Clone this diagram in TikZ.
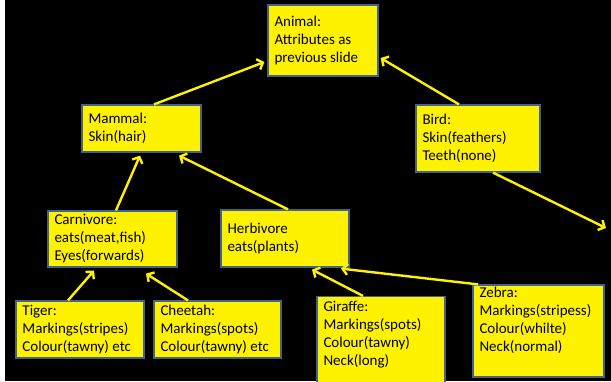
\documentclass[tikz,border=0pt]{standalone}
\usepackage{fontspec}
\setmainfont{Carlito}
\usetikzlibrary{arrows.meta}
\definecolor{boxedge}{RGB}{65,100,140}
\tikzset{
  card/.style={draw=boxedge, line width=1.2pt, fill=yellow, rectangle,
    inner xsep=6.5pt, inner ysep=0pt, align=flush left, anchor=center,
    font=\fontsize{15}{18}\selectfont, text=black},
  link/.style={draw=yellow, line width=2.4pt,
    -{Straight Barb[length=5pt,width=11pt,line width=2.4pt]}},
}
\begin{document}
\begin{tikzpicture}[x=1pt,y=-1pt]
\useasboundingbox (0,0) rectangle (611,381);
\clip (0,0) rectangle (611,381);
\fill[white] (0,0) rectangle (611,381);
\fill[black] (5,0) rectangle (611,381);

\node[card, minimum width=110pt, minimum height=71pt, text width=97pt] (animal) at (323,40.5)
  {Animal:\\Attributes as\\previous slide};
\node[card, minimum width=119pt, minimum height=47pt, text width=106pt] (mammal) at (141.5,128.5)
  {Mammal:\\Skin(hair)};
\node[card, minimum width=124pt, minimum height=67pt, text width=111pt] (bird) at (478,138.5)
  {Bird:\\Skin(feathers)\\Teeth(none)};
\node[card, minimum width=129pt, minimum height=56pt, text width=116pt] (carnivore) at (112.5,239)
  {Carnivore:\\eats(meat,fish)\\Eyes(forwards)};
\node[card, minimum width=128pt, minimum height=57pt, text width=115pt] (herbivore) at (285,238.5)
  {Herbivore\\eats(plants)};
\node[card, minimum width=128pt, minimum height=57pt, text width=115pt] (tiger) at (80,329.5)
  {Tiger:\\Markings(stripes)\\Colour(tawny) etc};
\node[card, minimum width=127pt, minimum height=57pt, text width=114pt] (cheetah) at (217.5,329.5)
  {Cheetah:\\Markings(spots)\\Colour(tawny) etc};
\node[card, minimum width=128pt, minimum height=97pt, text width=115pt] (giraffe) at (381,345)
  {Giraffe:\\Markings(spots)\\Colour(tawny)\\Neck(long)\\\strut};
\node[card, minimum width=131pt, minimum height=92pt, text width=118pt] (zebra) at (538.5,331)
  {Zebra:\\Markings(stripess)\\Colour(whilte)\\Neck(normal)\\\strut};

\coordinate (offright) at (606,228);

\draw[link] ([xshift=12.5pt]mammal.north) -- ([xshift=-3pt,yshift=-21.5pt]animal.west);
\draw[link] ([xshift=-19pt]bird.north) -- ([xshift=2pt,yshift=-17.5pt]animal.east);
\draw[link] ([xshift=3.5pt]carnivore.north) -- ([xshift=-1.5pt,yshift=-3pt]mammal.south);
\draw[link] ([xshift=3pt]herbivore.north) -- ([xshift=37.5pt,yshift=-3pt]mammal.south);
\draw[link] ([xshift=15pt]bird.south) -- (offright);
\draw[link] ([xshift=-12pt]tiger.north) -- ([xshift=-18.5pt,yshift=-3pt]carnivore.south);
\draw[link] ([xshift=-29.5pt]cheetah.north) -- ([xshift=33.5pt,yshift=-6pt]carnivore.south);
\draw[link] ([xshift=-18pt]giraffe.north) -- ([xshift=27pt,yshift=-2pt]herbivore.south);
\draw[link] ([xshift=-60.5pt]zebra.north) -- ([xshift=56pt,yshift=-1pt]herbivore.south);
\end{tikzpicture}
\end{document}
